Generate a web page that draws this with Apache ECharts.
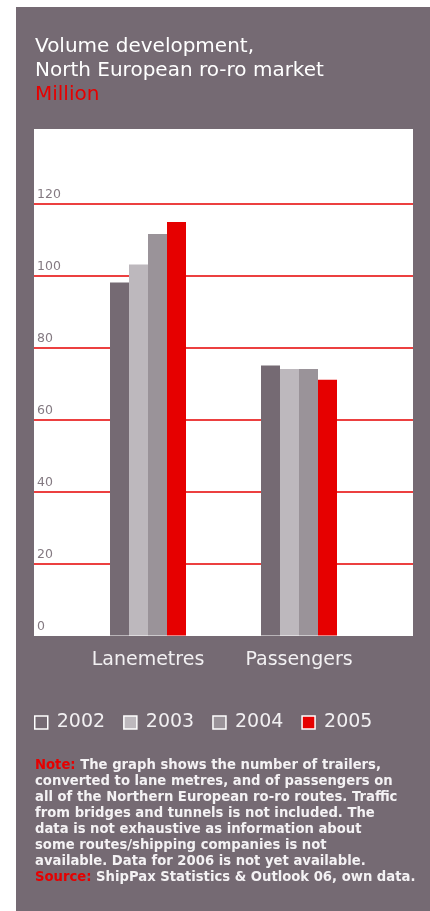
<!DOCTYPE html>
<html>
<head>
<meta charset="utf-8">
<title>Volume development, North European ro-ro market</title>
<script src="https://cdn.jsdelivr.net/npm/echarts@6/dist/echarts.min.js"></script>
<style>
  html, body { margin: 0; padding: 0; background: #ffffff; }
  #wrap { position: relative; width: 430px; height: 911px; overflow: hidden; }
  #panel { position: absolute; left: 16px; top: 7px; width: 414px; height: 904px; background: #756a73; }
  #chart { position: absolute; left: 0; top: 0; width: 430px; height: 911px; }
</style>
</head>
<body>
<div id="wrap">
  <div id="panel"></div>
  <div id="chart"></div>
</div>
<script>
// Volumes in million: lane metres and passengers, per year
const categories = ['Lanemetres', 'Passengers'];
const years = ['2002', '2003', '2004', '2005'];
const values2002 = [98, 75];
const values2003 = [103, 74];
const values2004 = [111.5, 74];
const values2005 = [114.8, 71];
const yTicks = [0, 20, 40, 60, 80, 100, 120];

const FONT = 'DejaVu Sans';
const PANEL = '#756a73';
const RED = '#e60000';
const yearColors = [PANEL, '#bdb8bd', '#9a9399', RED];
const yearValues = [values2002, values2003, values2004, values2005];

const yMax = 140;

const chart = echarts.init(document.getElementById('chart'), null, { renderer: 'canvas' });

const option = {
  animation: false,
  title: [
    {
      left: 35, top: 35, padding: 0,
      text: 'Volume development,\nNorth European ro-ro market\n{r|Million}',
      textStyle: {
        fontFamily: FONT, fontSize: 20, lineHeight: 24, fontWeight: 'normal', color: '#ffffff',
        rich: { r: { fontFamily: FONT, fontSize: 20, lineHeight: 24, color: RED } }
      }
    },
    {
      left: 35, top: 758, padding: 0,
      text: '{r|Note:} The graph shows the number of trailers,\n' +
            'converted to lane metres, and of passengers on\n' +
            'all of the Northern European ro-ro routes. Traffic\n' +
            'from bridges and tunnels is not included. The\n' +
            'data is not exhaustive as information about\n' +
            'some routes/shipping companies is not\n' +
            'available. Data for 2006 is not yet available.\n' +
            '{r|Source:} ShipPax Statistics & Outlook 06, own data.',
      textStyle: {
        fontFamily: FONT, fontSize: 13.2, lineHeight: 16, fontWeight: 'bold', color: '#f4f2f4',
        rich: { r: { fontFamily: FONT, fontSize: 13.2, lineHeight: 16, fontWeight: 'bold', color: RED } }
      }
    }
  ],
  legend: {
    data: years,
    left: 34, top: 713, padding: 0,
    orient: 'horizontal',
    icon: 'rect',
    itemWidth: 13, itemHeight: 13, itemGap: 18,
    itemStyle: { borderColor: '#ffffff', borderWidth: 1.5 },
    textStyle: { fontFamily: FONT, fontSize: 19, color: '#f2f0f2', padding: [0, 0, 0, 4] },
    selectedMode: false
  },
  grid: [
    // white plotting field
    { left: 34, top: 129, width: 379, height: 507, show: true, backgroundColor: '#ffffff', borderWidth: 0 },
    // value scale with red rules across the field
    { left: 34, top: 131.4, width: 379, height: 504, show: false },
    // grouped bars
    { left: 72.5, top: 131.4, width: 302, height: 504, show: false }
  ],
  xAxis: [
    { gridIndex: 0, type: 'value', show: false, min: 0, max: 1 },
    { gridIndex: 1, type: 'value', show: false, min: 0, max: 1 },
    {
      gridIndex: 2, type: 'category', data: categories,
      axisLine: { show: false }, axisTick: { show: false },
      axisLabel: { fontFamily: FONT, fontSize: 19, color: '#f2f0f2', margin: 15 }
    }
  ],
  yAxis: [
    { gridIndex: 0, type: 'value', show: false, min: 0, max: 1 },
    {
      gridIndex: 1, type: 'value', min: 0, max: yMax, interval: 20,
      axisLine: { show: false }, axisTick: { show: false },
      axisLabel: {
        inside: true, margin: 3, verticalAlign: 'bottom', padding: [0, 0, 2, 0],
        fontFamily: FONT, fontSize: 12.5, color: '#847a82',
        formatter: v => (yTicks.indexOf(v) >= 0 ? String(v) : '')
      },
      splitLine: {
        show: true, showMinLine: false, showMaxLine: false,
        lineStyle: { color: RED, width: 1.5, opacity: 1 }
      }
    },
    { gridIndex: 2, type: 'value', show: false, min: 0, max: yMax }
  ],
  series: years.map((y, i) => ({
    name: y,
    type: 'bar',
    xAxisIndex: 2, yAxisIndex: 2,
    data: yearValues[i],
    barWidth: 19,
    barGap: '0%',
    itemStyle: { color: yearColors[i] },
    emphasis: { disabled: true }
  }))
};

chart.setOption(option);
</script>
</body>
</html>
